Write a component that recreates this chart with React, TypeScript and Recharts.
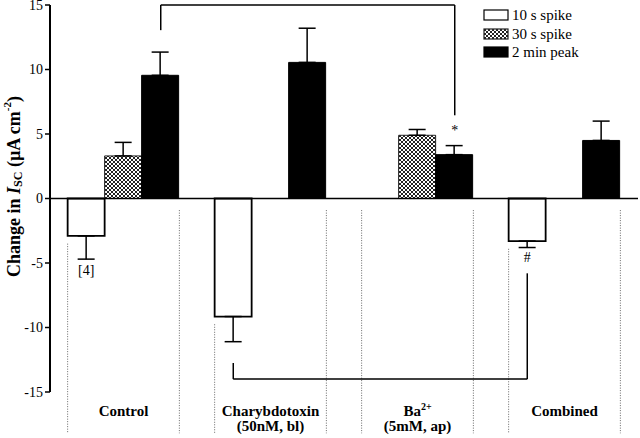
import React from 'react';
import { BarChart, Bar, XAxis, YAxis, ErrorBar, ReferenceLine, ReferenceDot, Legend } from 'recharts';

// values (µA cm-2)
const groups = ['Control', 'Charybdotoxin', 'Ba', 'Combined'];
const groupSup = ['', '', '2+', ''];
const groupSub = ['', '(50nM, bl)', '(5mM, ap)', ''];

const spike10 = [-2.9, -9.15, null, -3.3];
const spike10Err = [1.8, 1.95, null, 0.5];
const spike30 = [3.3, null, 4.9, null];
const spike30Err = [1.05, null, 0.45, null];
const peak2 = [9.55, 10.55, 3.4, 4.5];
const peak2Err = [1.8, 2.65, 0.7, 1.5];

const seriesKeys = ['s10', 's30', 'p2'];
const seriesNames = ['10 s spike', '30 s spike', '2 min peak'];
const yTicks = [-15, -10, -5, 0, 5, 10, 15];

// significance brackets: [group, series] of each end, y of the two legs and the bar
const topBracket = { from: [0, 2], to: [2, 2], y1: 13.05, level: 15, y2: 6.45 };
const bottomBracket = { from: [1, 0], to: [3, 0], y1: -12.75, level: -14, y2: -5.8 };
const notes = [
  { text: '[4]', at: [0, 0], y: -5.6 },
  { text: '*', at: [2, 2], y: 5.3 },
  { text: '#', at: [3, 0], y: -4.6 },
];

// quoted family lists didn't resolve in the sandbox, plain name does
const FONT = 'Liberation Serif';
const GAP = 0.12; // barCategoryGap as fraction of band
const barCenter = (g: number, s: number) => g + GAP + (s + 0.5) * (1 - 2 * GAP) / 3;

// one sided error: away from zero
const oneSided = (v: number | null, e: number | null) =>
  v == null || e == null ? null : v < 0 ? [e, 0] : [0, e];

const data = groups.map((g, i) => ({
  group: g,
  pos: i,
  s10: spike10[i],
  s10e: oneSided(spike10[i], spike10Err[i]),
  s30: spike30[i],
  s30e: oneSided(spike30[i], spike30Err[i]),
  p2: peak2[i],
  p2e: oneSided(peak2[i], peak2Err[i]),
}));

// group dividers at the cluster edges, starting just below the lowest bar
const dividers = groups.flatMap((g, i) => {
  const low = spike10[i] != null ? (spike10[i] as number) : 0;
  return [
    { x: i + GAP, top: low < 0 ? low - 0.6 : -0.9 },
    { x: i + 1 - GAP, top: -0.9 },
  ];
});

const styles: Record<string, { fill: string; stroke: string }> = {
  s10: { fill: '#ffffff', stroke: '#000' },
  s30: { fill: 'url(#xhatch)', stroke: '#222' },
  p2: { fill: '#000000', stroke: '#000' },
};

const GroupTick = (props: any) => {
  const { x, y, payload } = props;
  const i = payload.index;
  return (
    <g>
      <text x={x} y={y + 24} textAnchor="middle" fontFamily={FONT} fontWeight="bold" fontSize={15} fill="#000">
        {groups[i]}
        {groupSup[i] ? <tspan fontSize={10} dy={-6}>{groupSup[i]}</tspan> : null}
      </text>
      {groupSub[i] ? (
        <text x={x} y={y + 39} textAnchor="middle" fontFamily={FONT} fontWeight="bold" fontSize={15} fill="#000">
          {groupSub[i]}
        </text>
      ) : null}
    </g>
  );
};

const YLabel = (props: any) => {
  const vb = props.viewBox || { x: 0, y: 5, width: 50, height: 387 };
  const cx = vb.x + 14;
  const cy = vb.y + vb.height / 2 - 12;
  return (
    <text
      x={cx}
      y={cy}
      transform={`rotate(-90 ${cx} ${cy})`}
      textAnchor="middle"
      dominantBaseline="central"
      fontFamily={FONT}
      fontWeight="bold"
      fontSize={18}
      fill="#000"
    >
      Change in <tspan fontStyle="italic">I</tspan>
      <tspan fontSize={12} dy={4}>SC</tspan>
      <tspan dy={-4}> (µA cm</tspan>
      <tspan fontSize={11} dy={-7}>-2</tspan>
      <tspan dy={7}>)</tspan>
    </text>
  );
};

const LegendBox = () => (
  <div style={{ fontFamily: FONT, fontSize: 15, color: '#000', lineHeight: '18.5px' }}>
    {seriesKeys.map((k, i) => (
      <div key={k} style={{ display: 'flex', alignItems: 'center' }}>
        <svg width={27} height={12} style={{ marginRight: 2 }}>
          <rect x={1} y={1} width={24} height={10} fill={styles[k].fill} stroke={styles[k].stroke} strokeWidth={1.2} />
        </svg>
        <span>{seriesNames[i]}</span>
      </div>
    ))}
  </div>
);

const NoteLabel = (text: string) => (props: any) => {
  const vb = props.viewBox || { x: 0, y: 0 };
  return (
    <text x={vb.x} y={vb.y} textAnchor="middle" dominantBaseline="central" fontFamily={FONT} fontSize={14} fill="#000">
      {text}
    </text>
  );
};

const App: React.FC = () => {
  const segs = (b: typeof topBracket) => {
    const xa = barCenter(b.from[0], b.from[1]);
    const xb = barCenter(b.to[0], b.to[1]);
    return [
      [{ x: xa, y: b.y1 }, { x: xa, y: b.level }],
      [{ x: xa, y: b.level }, { x: xb, y: b.level }],
      [{ x: xb, y: b.level }, { x: xb, y: b.y2 }],
    ];
  };
  const bracketSegs = [...segs(topBracket), ...segs(bottomBracket)];

  return (
    <div style={{ position: 'absolute', left: 0, top: 0, width: 640, height: 438, background: '#fff' }}>
      <svg width={0} height={0} style={{ position: 'absolute' }}>
        <defs>
          <pattern id="xhatch" patternUnits="userSpaceOnUse" width={4} height={4}>
            <rect width={4} height={4} fill="#fff" />
            <path d="M0,0 L4,4 M4,0 L0,4" stroke="#222" strokeWidth={1} />
          </pattern>
        </defs>
      </svg>
      <BarChart
        width={640}
        height={438}
        data={data}
        margin={{ top: 5, right: 2, left: 0, bottom: 0 }}
        barCategoryGap={`${GAP * 100}%`}
        barGap={0}
      >
        <XAxis dataKey="group" height={46} axisLine={false} tickLine={false} tickSize={0} tickMargin={0} interval={0} tick={<GroupTick />} />
        <XAxis xAxisId="n" dataKey="pos" type="number" domain={[0, 4]} hide allowDataOverflow />
        <YAxis
          domain={[-15, 15]}
          ticks={yTicks}
          width={50}
          interval={0}
          axisLine={{ stroke: '#000', strokeWidth: 2 }}
          tickLine={{ stroke: '#000', strokeWidth: 1.5 }}
          tickSize={5}
          tickMargin={2}
          tick={{ fill: '#000', fontFamily: FONT, fontSize: 14 }}
          label={{ content: <YLabel /> }}
        />
        <Legend
          layout="vertical"
          align="center"
          verticalAlign="middle"
          content={<LegendBox />}
          wrapperStyle={{ top: 6, left: 483, width: 'auto', height: 'auto' }}
        />
        <ReferenceLine y={0} stroke="#000" strokeWidth={1.5} />
        {dividers.map((d, i) => (
          <ReferenceLine
            key={`div-${i}`}
            xAxisId="n"
            ifOverflow="visible"
            segment={[{ x: d.x, y: d.top }, { x: d.x, y: -18.2 }]}
            stroke="#666"
            strokeWidth={1}
            strokeDasharray="1 1.5"
          />
        ))}
        {bracketSegs.map((s, i) => (
          <ReferenceLine key={`br-${i}`} xAxisId="n" ifOverflow="visible" segment={s} stroke="#000" strokeWidth={1.5} />
        ))}
        <Bar dataKey="s10" name={seriesNames[0]} fill={styles.s10.fill} stroke="#000" strokeWidth={1.8} isAnimationActive={false}>
          <ErrorBar dataKey="s10e" direction="y" width={8.5} stroke="#000" strokeWidth={1.5} />
        </Bar>
        <Bar dataKey="s30" name={seriesNames[1]} fill={styles.s30.fill} stroke="#222" strokeWidth={1} isAnimationActive={false}>
          <ErrorBar dataKey="s30e" direction="y" width={8.5} stroke="#000" strokeWidth={1.5} />
        </Bar>
        <Bar dataKey="p2" name={seriesNames[2]} fill={styles.p2.fill} stroke="#000" strokeWidth={1} isAnimationActive={false}>
          <ErrorBar dataKey="p2e" direction="y" width={8.5} stroke="#000" strokeWidth={1.5} />
        </Bar>
        {notes.map((n, i) => (
          <ReferenceDot
            key={`note-${i}`}
            xAxisId="n"
            x={barCenter(n.at[0], n.at[1])}
            y={n.y}
            r={0}
            fill="none"
            stroke="none"
            label={{ content: NoteLabel(n.text) }}
          />
        ))}
      </BarChart>
    </div>
  );
};

export default App;
